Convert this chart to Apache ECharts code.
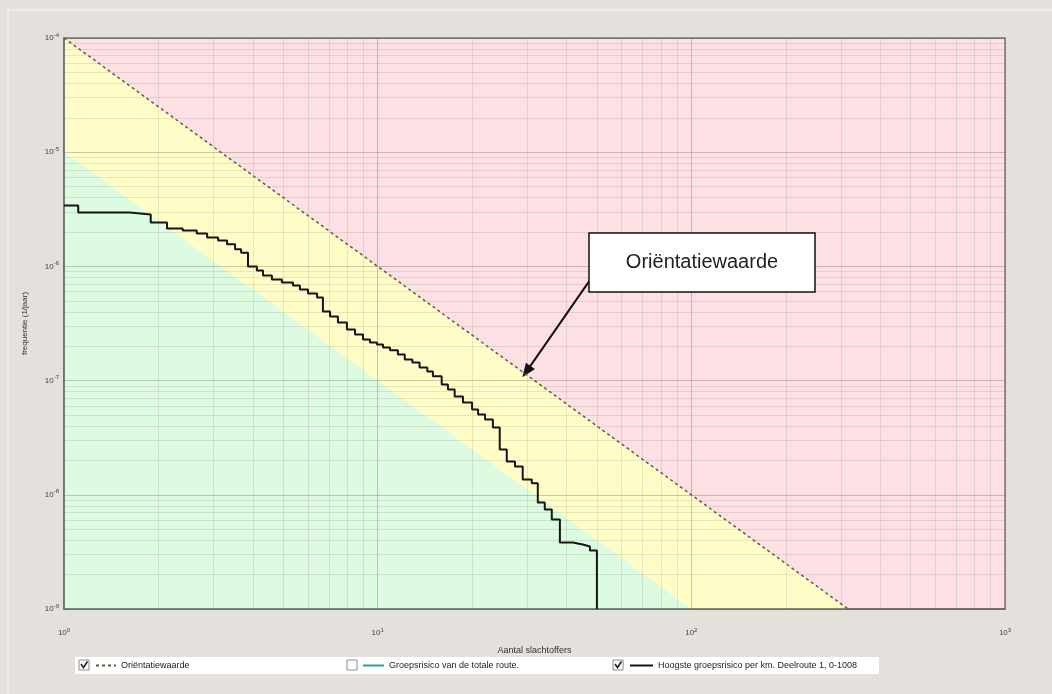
<!DOCTYPE html>
<html>
<head>
<meta charset="utf-8">
<script src="https://cdn.jsdelivr.net/npm/echarts@6/dist/echarts.min.js"></script>
<style>
  html, body { margin: 0; padding: 0; background: #e4e1dc; }
  #chart { width: 1052px; height: 694px; }
</style>
</head>
<body>
<div id="chart"></div>
<script>
// FN-curve: aantal slachtoffers (N) tegen frequentie (F), log-log
const xTicks = [1, 10, 100, 1000];
const yTicks = [1e-9, 1e-8, 1e-7, 1e-6, 1e-5, 1e-4];

// grenslijnen van de zones
const orientatieLijn = [[1, 1e-4], [316.2, 1e-9]];
const groenGrens = [[1, 1e-5], [100, 1e-9]];

const fnN = [1, 1.11, 1.62, 1.89, 2.13, 2.39, 2.65, 2.86, 3.10, 3.31, 3.51, 3.67, 3.86,
  4.12, 4.31, 4.60, 4.95, 5.37, 5.65, 6.0, 6.41, 6.69, 7.05, 7.47, 7.98, 8.47, 8.98,
  9.45, 9.95, 10.4, 10.95, 11.6, 12.2, 12.9, 13.6, 14.4, 15.0, 16.0, 16.75, 17.6,
  18.7, 20.0, 20.9, 22.0, 23.3, 24.5, 25.8, 27.4, 29.0, 31.0, 32.4, 34.1, 35.9,
  38.1, 41.9, 45.1, 47.5, 50.0];
const fnF = [3.41e-6, 2.96e-6, 2.85e-6, 2.42e-6, 2.15e-6, 2.06e-6, 1.94e-6, 1.79e-6,
  1.69e-6, 1.56e-6, 1.41e-6, 1.32e-6, 1.0e-6, 9.2e-7, 8.32e-7, 7.68e-7, 7.23e-7,
  6.8e-7, 6.28e-7, 5.79e-7, 5.34e-7, 4.03e-7, 3.64e-7, 3.23e-7, 2.80e-7, 2.53e-7,
  2.29e-7, 2.16e-7, 2.07e-7, 1.95e-7, 1.84e-7, 1.69e-7, 1.53e-7, 1.44e-7, 1.30e-7,
  1.20e-7, 1.09e-7, 9.24e-8, 8.36e-8, 7.26e-8, 6.43e-8, 5.58e-8, 5.05e-8, 4.56e-8,
  3.88e-8, 2.49e-8, 1.96e-8, 1.77e-8, 1.36e-8, 1.26e-8, 8.56e-9, 7.43e-9, 6.08e-9,
  3.82e-9, 3.67e-9, 3.53e-9, 3.25e-9, 1e-9];

const legendNames = ['Oriëntatiewaarde', 'Groepsrisico van de totale route.',
  'Hoogste groepsrisico per km. Deelroute 1, 0-1008'];

// fijne rasterlijnen 2..9 per decade
const minorX = [];
[1, 10, 100].forEach(d => { for (let k = 2; k <= 9; k++) minorX.push(k * d); });
const minorY = [];
[1e-9, 1e-8, 1e-7, 1e-6, 1e-5].forEach(d => { for (let k = 2; k <= 9; k++) minorY.push(k * d); });

const font = 'Liberation Sans, Arial, sans-serif';
const expLabel = v => '{b|10}{s|' + Math.round(Math.log10(v)) + '}';
const labelRich = {
  b: { fontSize: 8, color: '#444', fontFamily: font },
  s: { fontSize: 6, color: '#444', fontFamily: font, padding: [0, 0, 6, 0] }
};
const majorLine = { show: true, lineStyle: { color: 'rgba(90,90,70,0.32)', width: 1 } };
const legendText = { fontSize: 9, color: '#222', fontFamily: font };

const myChart = echarts.init(document.getElementById('chart'), null, { renderer: 'canvas' });

const rasterLijnen = minorX.map(v => [{ coord: [v, yTicks[0]] }, { coord: [v, yTicks[5]] }])
  .concat(minorY.map(v => [{ coord: [xTicks[0], v] }, { coord: [xTicks[3], v] }]));

myChart.setOption({
  backgroundColor: '#e4e1dc',
  animation: false,
  grid: {
    left: 64, right: 47, top: 38, bottom: 85,
    show: true,
    backgroundColor: '#fde0e3',
    borderColor: '#7b7878',
    borderWidth: 1.5
  },
  xAxis: {
    type: 'log', logBase: 10, min: 1, max: 1000, z: 3,
    name: 'Aantal slachtoffers', nameLocation: 'middle', nameGap: 37,
    nameTextStyle: { fontSize: 9, color: '#333', fontFamily: font },
    axisLine: { show: true, lineStyle: { color: '#5d6b5d', width: 1.5 } },
    axisTick: { show: false },
    axisLabel: { formatter: expLabel, rich: labelRich, margin: 18 },
    splitLine: majorLine
  },
  yAxis: {
    type: 'log', logBase: 10, min: 1e-9, max: 1e-4, z: 3,
    name: 'frequentie (1/jaar)', nameLocation: 'middle', nameGap: 35,
    nameTextStyle: { fontSize: 8, color: '#333', fontFamily: font },
    axisLine: { show: true, lineStyle: { color: '#5d6b5d', width: 1.5 } },
    axisTick: { show: false },
    axisLabel: { formatter: expLabel, rich: labelRich, margin: 5 },
    splitLine: majorLine
  },
  legend: [
    { data: [legendNames[0]], left: 95, top: 661, itemWidth: 20, itemHeight: 8, padding: 0,
      selectedMode: false, itemStyle: { opacity: 0 }, textStyle: legendText },
    { data: [legendNames[1]], left: 362, top: 661, itemWidth: 21, itemHeight: 8, padding: 0,
      selectedMode: false, itemStyle: { opacity: 0 }, textStyle: legendText },
    { data: [legendNames[2]], left: 629, top: 661, itemWidth: 23, itemHeight: 8, padding: 0,
      selectedMode: false, itemStyle: { opacity: 0 }, textStyle: legendText }
  ],
  graphic: [
    { type: 'rect', z: 0, shape: { x: 8, y: 10, width: 1100, height: 700 },
      style: { fill: 'none', stroke: '#f3f1ed', lineWidth: 1.5 } },
    { type: 'rect', z: 1, shape: { x: 75, y: 657, width: 804, height: 17 }, style: { fill: '#ffffff' } },
    { type: 'rect', z: 2, shape: { x: 79, y: 660, width: 10, height: 10 }, style: { fill: '#fff', stroke: '#8a8a8a' } },
    { type: 'polyline', z: 3, shape: { points: [[81, 664], [83.5, 667.5], [87.5, 661.5]] },
      style: { stroke: '#222', lineWidth: 1.6, fill: 'none' } },
    { type: 'rect', z: 2, shape: { x: 347, y: 660, width: 10, height: 10 }, style: { fill: '#fff', stroke: '#8a8a8a' } },
    { type: 'rect', z: 2, shape: { x: 613, y: 660, width: 10, height: 10 }, style: { fill: '#fff', stroke: '#8a8a8a' } },
    { type: 'polyline', z: 3, shape: { points: [[615, 664], [617.5, 667.5], [621.5, 661.5]] },
      style: { stroke: '#222', lineWidth: 1.6, fill: 'none' } },
    // annotatie
    { type: 'rect', z: 100, shape: { x: 589, y: 233, width: 226, height: 59 },
      style: { fill: '#ffffff', stroke: '#111', lineWidth: 1.5 } },
    { type: 'text', z: 101, x: 702, y: 262,
      style: { text: 'Oriëntatiewaarde', fontSize: 20, fontFamily: font, fill: '#222',
        textAlign: 'center', textVerticalAlign: 'middle' } }
  ],
  series: [
    {
      name: 'geel', type: 'line', z: 1, silent: true, symbol: 'none',
      data: orientatieLijn,
      lineStyle: { width: 0 },
      areaStyle: { color: '#fefdc7', opacity: 1, origin: 'start' }
    },
    {
      name: 'groen', type: 'line', z: 1, silent: true, symbol: 'none',
      data: groenGrens,
      lineStyle: { width: 0 },
      areaStyle: { color: '#ddfbe1', opacity: 1, origin: 'start' }
    },
    {
      name: 'raster', type: 'line', z: 2, silent: true, symbol: 'none',
      data: [[1, 1e-9]], lineStyle: { opacity: 0 },
      markLine: {
        silent: true, symbol: 'none', label: { show: false },
        lineStyle: { color: 'rgba(90,90,70,0.14)', width: 1, type: 'solid' },
        data: rasterLijnen
      }
    },
    {
      name: legendNames[0], type: 'line', z: 6, symbol: 'none',
      data: orientatieLijn,
      color: '#5e5b45',
      lineStyle: { color: '#5e5b45', width: 1.5, type: [3, 3] },
      markLine: {
        silent: true, symbol: ['none', 'triangle'], symbolSize: [11, 14],
        label: { show: false },
        lineStyle: { color: '#111', width: 2, type: 'solid' },
        data: [[{ coord: [47.2, 7.4e-7] }, { coord: [29.8, 1.2e-7] }]]
      }
    },
    {
      name: legendNames[1], type: 'line', z: 6, symbol: 'none',
      data: [], color: '#2a9d9d',
      lineStyle: { color: '#2a9d9d', width: 2 }
    },
    {
      name: legendNames[2], type: 'line', z: 7, symbol: 'none', step: 'end',
      data: fnN.map((n, i) => [n, fnF[i]]),
      color: '#151515',
      lineStyle: { color: '#151515', width: 2 }
    }
  ]
});
</script>
</body>
</html>
